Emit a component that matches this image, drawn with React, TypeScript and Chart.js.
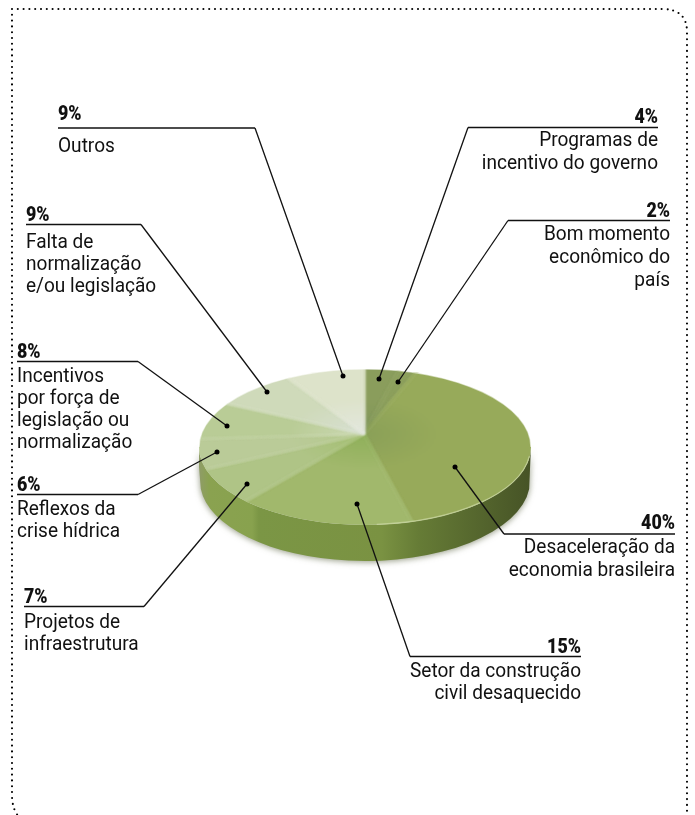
import React, { useEffect, useRef } from "react";
import { Chart, registerables } from "chart.js";

Chart.register(...registerables);

const categories = [
  "Programas de incentivo do governo",
  "Bom momento econômico do país",
  "Desaceleração da economia brasileira",
  "Setor da construção civil desaquecido",
  "Projetos de infraestrutura",
  "Reflexos da crise hídrica",
  "Incentivos por força de legislação ou normalização",
  "Falta de normalização e/ou legislação",
  "Outros",
];
const shares = [4, 2, 40, 15, 7, 6, 8, 9, 9];
const sliceInner = ["#7f955a", "#82985a", "#8aa058", "#8fb05a", "#a4bf72", "#b5c98e", "#cbd8b2", "#d8e0d2", "#e3e7de"];
const sliceOuter = ["#8a9d5c", "#8c9f5c", "#97aa5a", "#a1b86c", "#afc486", "#bacb98", "#b9cc96", "#cfdaba", "#dde3ca"];
const labelLines = [
  ["Programas de", "incentivo do governo"],
  ["Bom momento", "econômico do", "país"],
  ["Desaceleração da", "economia brasileira"],
  ["Setor da construção", "civil desaquecido"],
  ["Projetos de", "infraestrutura"],
  ["Reflexos da", "crise hídrica"],
  ["Incentivos", "por força de", "legislação ou", "normalização"],
  ["Falta de", "normalização", "e/ou legislação"],
  ["Outros"],
];

// Callout layout: rule y, rule start/end, elbow x, dot position, text side, text offsets
const callouts = [
  { y: 127.5, x1: 468, x2: 658, ex: 468, dx: 379, dy: 379, right: true, pct: 5, body: 18, lh: 23 },
  { y: 220.5, x1: 508, x2: 670, ex: 508, dx: 398, dy: 382, right: true, pct: 4, body: 19, lh: 23 },
  { y: 534, x1: 504, x2: 675, ex: 504, dx: 455, dy: 467, right: true, pct: 5, body: 19, lh: 23 },
  { y: 656.5, x1: 410, x2: 581, ex: 410, dx: 357, dy: 504, right: true, pct: 4, body: 20, lh: 22 },
  { y: 606.5, x1: 24, x2: 144, ex: 144, dx: 247, dy: 484, right: false, pct: 4, body: 21, lh: 22 },
  { y: 494.5, x1: 17, x2: 138, ex: 138, dx: 217, dy: 452, right: false, pct: 4, body: 20, lh: 22 },
  { y: 361.5, x1: 17, x2: 138, ex: 138, dx: 227, dy: 426, right: false, pct: 4, body: 20, lh: 22 },
  { y: 224.5, x1: 26, x2: 141, ex: 141, dx: 267, dy: 392, right: false, pct: 4, body: 23, lh: 22 },
  { y: 128, x1: 58, x2: 255, ex: 255, dx: 343, dy: 376, right: false, pct: 8, body: 24, lh: 22 },
];

const pie = { cx: 365, apexX: 364, cy: 447, rx: 166, ry: 78, apexY: 434, squash: 0.47, depth: 34, radius: 230 };
const BODY_FONT = '20.5px "Roboto", sans-serif';
const BODY_STRETCH = 0.93;
const PCT_FONT = '900 21px "Roboto", sans-serif';
const PCT_STRETCH = 0.85;

function stretchedText(ctx: any, text: string, x: number, y: number, sx: number) {
  ctx.save();
  ctx.translate(x, y);
  ctx.scale(sx, 1);
  ctx.fillText(text, 0, 0);
  ctx.restore();
}

const pie3d = {
  id: "pie3d",
  beforeDatasetsDraw(chart: any) {
    const ctx = chart.ctx;
    const { cx, cy, rx, ry, depth, apexX, apexY, squash } = pie;

    // dotted frame
    ctx.save();
    ctx.strokeStyle = "#000";
    ctx.lineWidth = 2.1;
    ctx.lineCap = "round";
    ctx.setLineDash([0, 5.8]);
    ctx.beginPath();
    ctx.moveTo(12, 9);
    ctx.lineTo(662, 9);
    ctx.quadraticCurveTo(687, 9, 687, 32);
    ctx.lineTo(687, 815);
    ctx.moveTo(12, 9);
    ctx.lineTo(12, 795);
    ctx.quadraticCurveTo(12, 810, 20, 818);
    ctx.stroke();
    ctx.restore();

    // pie rim
    const side = ctx.createLinearGradient(cx - rx, 0, cx + rx, 0);
    side.addColorStop(0, "#8f9c68");
    side.addColorStop(0.03, "#8aa250");
    side.addColorStop(0.16, "#88a24e");
    side.addColorStop(0.18, "#7b9645");
    side.addColorStop(0.55, "#7a9242");
    side.addColorStop(0.66, "#667c36");
    side.addColorStop(1, "#465326");

    ctx.save();
    ctx.shadowColor = "rgba(60,70,30,0.55)";
    ctx.shadowBlur = 6;
    ctx.shadowOffsetY = 1;
    ctx.fillStyle = side;
    ctx.beginPath();
    ctx.ellipse(cx, cy, rx, ry, 0, Math.PI, 0, true);
    ctx.lineTo(cx + rx - 1, cy + 22);
    ctx.ellipse(cx, cy + depth, rx - 1, ry + 2, 0, 0.1, Math.PI - 0.1);
    ctx.lineTo(cx - rx, cy + 20);
    ctx.closePath();
    ctx.fill();
    ctx.restore();

    // top face: the library's slices, radiating from the off-centre apex and clipped to the ellipse
    ctx.save();
    ctx.beginPath();
    ctx.ellipse(cx, cy, rx, ry, 0, 0, Math.PI * 2);
    ctx.clip();
    const el = chart.getDatasetMeta(0).data[0];
    ctx.translate(apexX, apexY);
    ctx.scale(1, squash);
    ctx.translate(-el.x, -el.y);
    ctx.filter = "blur(1.2px)";
  },
  afterDatasetsDraw(chart: any) {
    const ctx = chart.ctx;
    const { cx, cy, rx, ry } = pie;
    ctx.filter = "none";
    ctx.restore();

    ctx.save();
    // light front edge of the face, right side only
    ctx.strokeStyle = "rgba(205,218,165,0.7)";
    ctx.lineWidth = 1.2;
    ctx.beginPath();
    ctx.ellipse(cx, cy, rx - 0.5, ry - 0.5, 0, 0.12, 1.5);
    ctx.stroke();
    // soft upper edge of the face
    ctx.strokeStyle = "rgba(255,255,255,0.55)";
    ctx.lineWidth = 1.6;
    ctx.beginPath();
    ctx.ellipse(cx, cy, rx, ry, 0, Math.PI, 0);
    ctx.stroke();
    ctx.restore();

    // callouts
    ctx.save();
    ctx.textBaseline = "alphabetic";
    callouts.forEach((c, i) => {
      ctx.strokeStyle = "#111";
      ctx.lineWidth = 1.3;
      ctx.beginPath();
      ctx.moveTo(c.x1, c.y);
      ctx.lineTo(c.x2, c.y);
      ctx.stroke();
      ctx.beginPath();
      ctx.moveTo(c.ex, c.y);
      ctx.lineTo(c.dx, c.dy);
      ctx.stroke();
      ctx.fillStyle = "#000";
      ctx.beginPath();
      ctx.arc(c.dx, c.dy, 2.5, 0, Math.PI * 2);
      ctx.fill();

      const x = c.right ? c.x2 : c.x1;
      ctx.textAlign = c.right ? "right" : "left";
      ctx.fillStyle = "#111";
      ctx.font = PCT_FONT;
      stretchedText(ctx, `${shares[i]}%`, x, Math.round(c.y) - c.pct, PCT_STRETCH);
      ctx.font = BODY_FONT;
      labelLines[i].forEach((t, k) => {
        stretchedText(ctx, t, x, Math.round(c.y) + c.body + k * c.lh, BODY_STRETCH);
      });
    });
    ctx.restore();
  },
};

export default function App() {
  const ref = useRef<HTMLCanvasElement>(null);
  useEffect(() => {
    const sliceFill = (context: any) => {
      const { chart, dataIndex } = context;
      const x = chart.width / 2;
      const y = chart.height / 2;
      const g = chart.ctx.createRadialGradient(x, y, 0, x, y, pie.rx);
      g.addColorStop(0, sliceInner[dataIndex]);
      g.addColorStop(0.45, sliceOuter[dataIndex]);
      g.addColorStop(1, sliceOuter[dataIndex]);
      return g;
    };
    const chart = new Chart(ref.current as HTMLCanvasElement, {
      type: "pie",
      data: {
        labels: categories,
        datasets: [{ data: shares, backgroundColor: sliceFill, borderColor: sliceFill, borderWidth: 3, borderAlign: "center" }],
      },
      options: {
        responsive: false,
        animation: false,
        radius: pie.radius,
        layout: { padding: 0 },
        plugins: { legend: { display: false }, tooltip: { enabled: false } },
      },
      plugins: [pie3d],
    } as any);
    return () => chart.destroy();
  }, []);
  return (
    <canvas
      ref={ref}
      width={695}
      height={815}
      style={{ position: "absolute", left: 0, top: 0, display: "block", background: "#fff" }}
    />
  );
}
